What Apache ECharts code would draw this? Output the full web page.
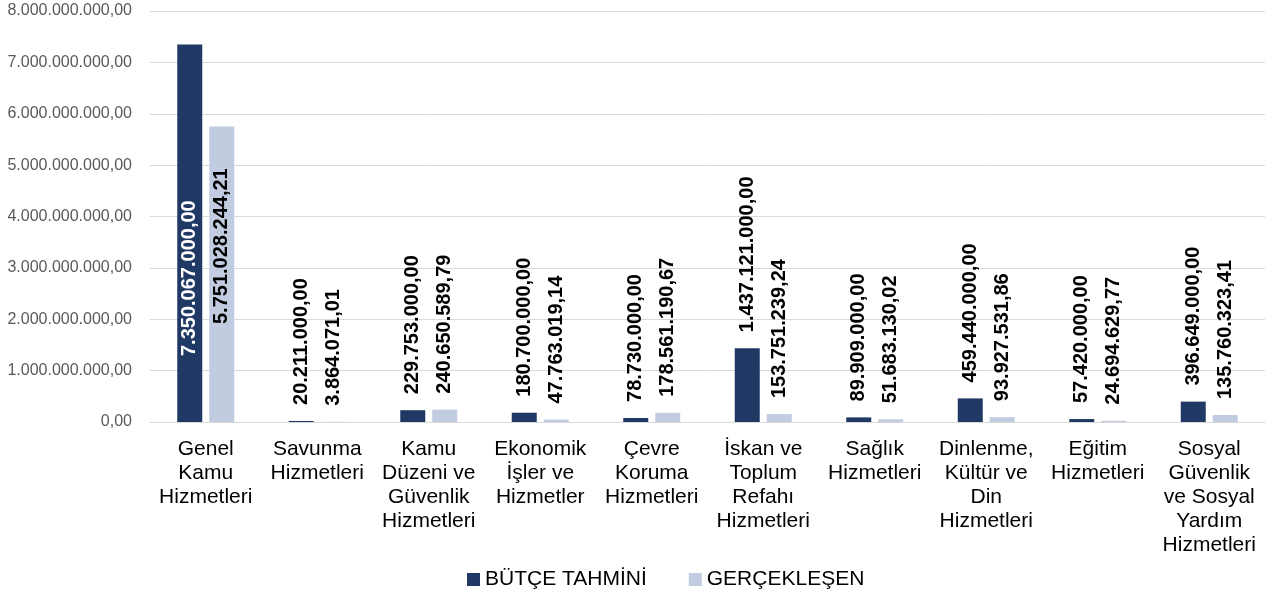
<!DOCTYPE html>
<html>
<head>
<meta charset="utf-8">
<script src="https://cdn.jsdelivr.net/npm/echarts@6/dist/echarts.min.js"></script>
<style>
html,body{margin:0;padding:0;background:#fff;}
#chart1{width:1274px;height:599px;}
</style>
</head>
<body>
<div id="chart1"></div>
<script>
var kategoriler = [
    'Genel\nKamu\nHizmetleri',
    'Savunma\nHizmetleri',
    'Kamu\nDüzeni ve\nGüvenlik\nHizmetleri',
    'Ekonomik\nİşler ve\nHizmetler',
    'Çevre\nKoruma\nHizmetleri',
    'İskan ve\nToplum\nRefahı\nHizmetleri',
    'Sağlık\nHizmetleri',
    'Dinlenme,\nKültür ve\nDin\nHizmetleri',
    'Eğitim\nHizmetleri',
    'Sosyal\nGüvenlik\nve Sosyal\nYardım\nHizmetleri'
];
var butceTahmini = [7350067000.00, 20211000.00, 229753000.00, 180700000.00, 78730000.00,
    1437121000.00, 89909000.00, 459440000.00, 57420000.00, 396649000.00];
var gerceklesen = [5751028244.21, 3864071.01, 240650589.79, 47763019.14, 178561190.67,
    153751239.24, 51683130.02, 93927531.86, 24694629.77, 135760323.41];

// 1234567,8 -> "1.234.567,80"
function trSayi(v) {
    var p = v.toFixed(2).split('.');
    return p[0].replace(/\B(?=(\d{3})+(?!\d))/g, '.') + ',' + p[1];
}

function etiketli(values, ilkRenk, ilkMesafe) {
    return values.map(function (v, i) {
        if (i === 0) {
            // ilk kategori: etiket çubuğun içinde
            return {
                value: v,
                label: {position: 'insideBottom', distance: ilkMesafe, color: ilkRenk}
            };
        }
        return v;
    });
}

var etiket = {
    show: true,
    position: 'top',
    distance: 16,
    rotate: 90,
    align: 'left',
    verticalAlign: 'middle',
    fontFamily: 'Liberation Sans, Arial, sans-serif',
    fontWeight: 'bold',
    fontSize: 20,
    color: '#000',
    formatter: function (p) { return trSayi(p.value); }
};

var chart1 = echarts.init(document.getElementById('chart1'));
chart1.setOption({
    animation: false,
    grid: {left: 150, right: 9, top: 11, bottom: 177},
    legend: {
        top: 564,
        left: 462,
        icon: 'rect',
        itemWidth: 13,
        itemHeight: 13,
        itemGap: 42,
        textStyle: {fontFamily: 'Liberation Sans, Arial, sans-serif', fontSize: 21, color: '#000'},
        data: ['BÜTÇE TAHMİNİ', 'GERÇEKLEŞEN']
    },
    xAxis: {
        type: 'category',
        data: kategoriler,
        axisTick: {show: false},
        axisLine: {lineStyle: {color: '#d9d9d9', width: 1}},
        axisLabel: {
            interval: 0,
            margin: 15,
            fontFamily: 'Liberation Sans, Arial, sans-serif',
            fontSize: 21,
            lineHeight: 24,
            color: '#000'
        }
    },
    yAxis: {
        type: 'value',
        min: 0,
        max: 8000000000,
        interval: 1000000000,
        axisLine: {show: false},
        axisTick: {show: false},
        splitLine: {lineStyle: {color: '#d9d9d9', width: 1}},
        axisLabel: {
            margin: 18,
            fontFamily: 'Liberation Sans, Arial, sans-serif',
            fontSize: 16,
            color: '#595959',
            formatter: function (v) { return trSayi(v); }
        }
    },
    series: [
        {
            name: 'BÜTÇE TAHMİNİ',
            type: 'bar',
            barWidth: 25,
            barGap: '28%',
            itemStyle: {color: '#203864'},
            label: etiket,
            data: etiketli(butceTahmini, '#fff', 66)
        },
        {
            name: 'GERÇEKLEŞEN',
            type: 'bar',
            barWidth: 25,
            itemStyle: {color: '#c1cce0'},
            label: etiket,
            data: etiketli(gerceklesen, '#000', 98)
        }
    ]
});
</script>
</body>
</html>
